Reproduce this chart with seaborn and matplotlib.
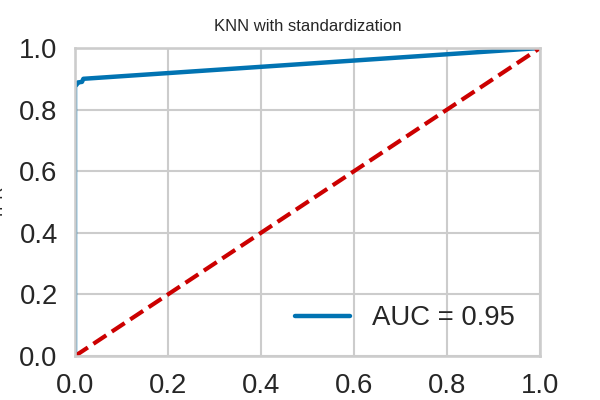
import matplotlib
matplotlib.use("Agg")
import matplotlib.pyplot as plt
import seaborn as sns
import pandas as pd

# ROC curve data
fpr = [0.0, 0.0, 0.0, 0.004, 0.006, 0.015, 0.018, 1.0]
tpr = [0.0, 0.86, 0.875, 0.882, 0.888, 0.890, 0.900, 1.0]
diag_x = [0.0, 1.0]
diag_y = [0.0, 1.0]
auc_label = "AUC = 0.95"
title = "KNN with standardization"

sns.set_theme(context="talk", style="whitegrid", font_scale=1.2)
plt.rcParams["font.family"] = ["Liberation Sans", "DejaVu Sans"]
fig, ax = plt.subplots(figsize=(6, 4), dpi=100)

df = pd.DataFrame({"FPR": fpr, "TPR": tpr})
ax.plot(df["FPR"], df["TPR"], color="#0173B2", lw=3.2, label=auc_label)
ax.plot(diag_x, diag_y, "--", color="#CC0000", lw=3)
ax.set_xlim(0, 1)
ax.set_ylim(0, 1)
ax.set_title(title, fontsize=12, pad=12.5)
ax.set_ylabel("TPR", fontsize=12)
ax.yaxis.set_label_coords(-0.15, 0.5)
ax.legend(loc="lower right", frameon=False)
fig.savefig("out.png", dpi=100)
